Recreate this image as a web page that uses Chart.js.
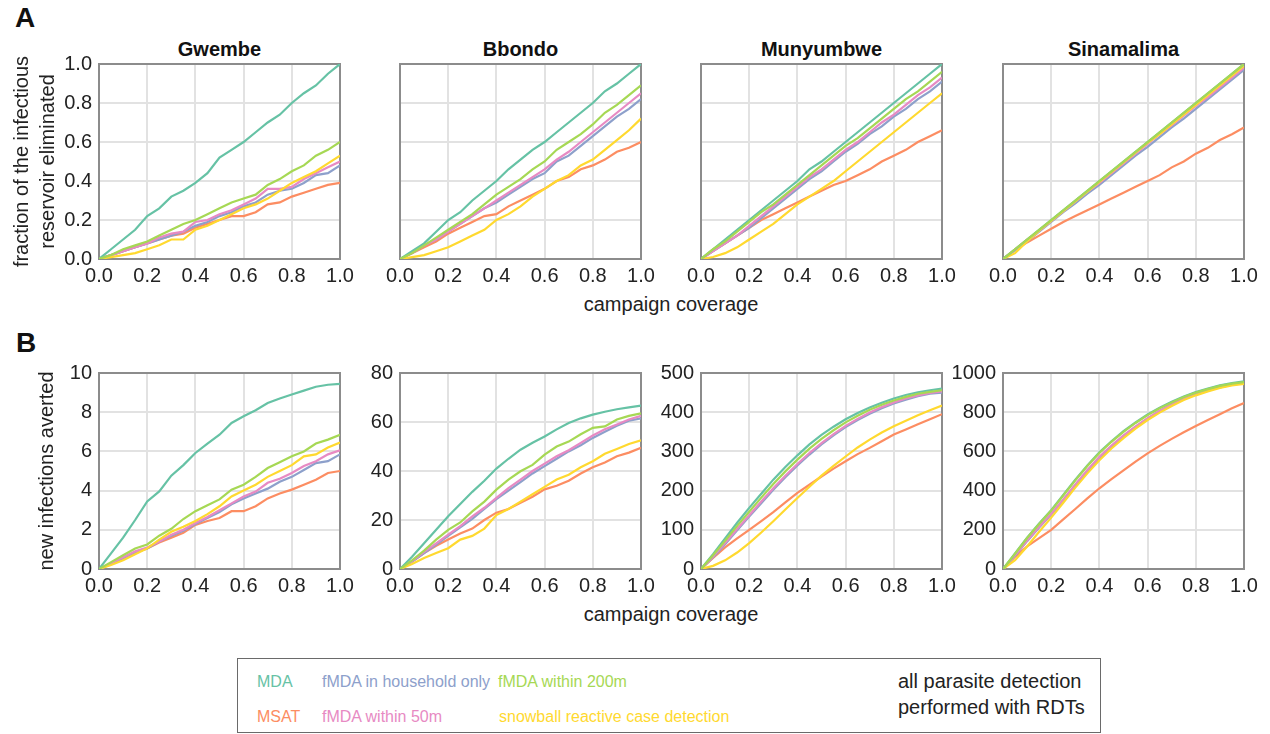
<!DOCTYPE html>
<html>
<head>
<meta charset="utf-8">
<title>Reservoir elimination and infections averted</title>
<script src="https://cdn.jsdelivr.net/npm/chart.js@4.4.0/dist/chart.umd.min.js"></script>
<style>
  body {
    margin: 0;
    width: 1270px;
    height: 734px;
    position: relative;
    overflow: hidden;
    background: #fff;
    color: #222;
    font-family: "Liberation Sans", Arial, sans-serif;
  }
  canvas { position: absolute; }
  .txt { position: absolute; line-height: 1; white-space: nowrap; }
  .letter { font-size: 28px; font-weight: bold; color: #111; }
  .title { font-size: 20px; font-weight: bold; text-align: center; width: 241px; color: #111; }
  .xtitle { font-size: 20px; text-align: center; width: 542px; left: 400px; }
  .key { font-size: 16px; }
  #legend {
    position: absolute;
    left: 237px; top: 658px;
    width: 864px; height: 75px;
    box-sizing: border-box;
    border: 1.5px solid #6a6a6a;
  }
  #note { left: 898px; top: 668px; font-size: 20px; line-height: 26px; color: #222; }
</style>
</head>
<body>

<div class="txt letter" style="left:15px; top:4px;">A</div>
<div class="txt letter" style="left:16px; top:329px;">B</div>

<div class="txt title" style="left:99px; top:39px;">Gwembe</div>
<div class="txt title" style="left:400px; top:39px;">Bbondo</div>
<div class="txt title" style="left:701px; top:39px;">Munyumbwe</div>
<div class="txt title" style="left:1003px; top:39px;">Sinamalima</div>

<div class="txt xtitle" style="top:294px;">campaign coverage</div>
<div class="txt xtitle" style="top:604px;">campaign coverage</div>

<div id="legend"></div>
<div class="txt key" style="left:257px; top:674px; color:#66c2a5;">MDA</div>
<div class="txt key" style="left:257px; top:709px; color:#fc8d62;">MSAT</div>
<div class="txt key" style="left:322px; top:674px; color:#8da0cb;">fMDA in household only</div>
<div class="txt key" style="left:322px; top:709px; color:#e78ac3;">fMDA within 50m</div>
<div class="txt key" style="left:498px; top:674px; color:#a6d854;">fMDA within 200m</div>
<div class="txt key" style="left:499px; top:709px; color:#ffd92f;">snowball reactive case detection</div>
<div class="txt" id="note">all parasite detection<br>performed with RDTs</div>

<script>
// campaign coverage, sampled every 5%
const coverage = [0, 0.05, 0.10, 0.15, 0.20, 0.25, 0.30, 0.35, 0.40, 0.45, 0.50,
                  0.55, 0.60, 0.65, 0.70, 0.75, 0.80, 0.85, 0.90, 0.95, 1.00];

// series order used by every panel below
const seriesLabels = ["MDA", "MSAT", "fMDA in household only", "fMDA within 50m",
                      "fMDA within 200m", "snowball reactive case detection"];
const seriesColors = ["#66c2a5", "#fc8d62", "#8da0cb", "#e78ac3", "#a6d854", "#ffd92f"];
// which series gets painted last (on top) first
const drawOrder = [4, 0, 5, 3, 2, 1];

const coverageTicks = [0, 0.2, 0.4, 0.6, 0.8, 1.0];
const fractionTicks = [0, 0.2, 0.4, 0.6, 0.8, 1.0];
const avertedTicksGwembe = [0, 2, 4, 6, 8, 10];
const avertedTicksBbondo = [0, 20, 40, 60, 80];
const avertedTicksMunyumbwe = [0, 100, 200, 300, 400, 500];
const avertedTicksSinamalima = [0, 200, 400, 600, 800, 1000];

// fraction of the infectious reservoir eliminated
const fracGwembe = [
  [0, 0.05, 0.10, 0.15, 0.22, 0.26, 0.32, 0.35, 0.39, 0.44, 0.52, 0.56, 0.60, 0.65, 0.70, 0.74, 0.80, 0.85, 0.89, 0.95, 1.00],
  [0, 0.02, 0.04, 0.06, 0.08, 0.10, 0.12, 0.13, 0.16, 0.18, 0.20, 0.22, 0.22, 0.24, 0.28, 0.29, 0.32, 0.34, 0.36, 0.38, 0.39],
  [0, 0.02, 0.04, 0.06, 0.08, 0.10, 0.12, 0.14, 0.17, 0.19, 0.22, 0.24, 0.27, 0.29, 0.33, 0.35, 0.36, 0.39, 0.43, 0.44, 0.48],
  [0, 0.02, 0.04, 0.06, 0.08, 0.11, 0.13, 0.14, 0.19, 0.20, 0.23, 0.25, 0.28, 0.31, 0.36, 0.36, 0.37, 0.41, 0.44, 0.47, 0.50],
  [0, 0.02, 0.05, 0.07, 0.09, 0.12, 0.15, 0.18, 0.20, 0.23, 0.26, 0.29, 0.31, 0.33, 0.38, 0.41, 0.45, 0.48, 0.53, 0.56, 0.60],
  [0, 0.01, 0.02, 0.03, 0.05, 0.07, 0.10, 0.10, 0.15, 0.17, 0.20, 0.23, 0.26, 0.28, 0.31, 0.35, 0.39, 0.42, 0.45, 0.49, 0.53]
];
const fracBbondo = [
  [0, 0.04, 0.08, 0.14, 0.20, 0.24, 0.30, 0.35, 0.40, 0.46, 0.51, 0.56, 0.60, 0.65, 0.70, 0.75, 0.80, 0.86, 0.90, 0.95, 1.00],
  [0, 0.03, 0.06, 0.09, 0.13, 0.16, 0.19, 0.22, 0.23, 0.27, 0.30, 0.33, 0.36, 0.40, 0.42, 0.46, 0.48, 0.51, 0.55, 0.57, 0.60],
  [0, 0.03, 0.07, 0.10, 0.14, 0.18, 0.22, 0.26, 0.29, 0.33, 0.37, 0.41, 0.44, 0.50, 0.53, 0.58, 0.63, 0.68, 0.73, 0.77, 0.82],
  [0, 0.03, 0.07, 0.10, 0.14, 0.18, 0.22, 0.26, 0.30, 0.34, 0.38, 0.42, 0.46, 0.51, 0.55, 0.60, 0.65, 0.70, 0.75, 0.80, 0.85],
  [0, 0.03, 0.07, 0.11, 0.15, 0.19, 0.23, 0.28, 0.33, 0.37, 0.41, 0.46, 0.50, 0.56, 0.60, 0.64, 0.69, 0.75, 0.79, 0.84, 0.89],
  [0, 0.01, 0.02, 0.04, 0.06, 0.09, 0.12, 0.15, 0.20, 0.23, 0.27, 0.32, 0.36, 0.40, 0.43, 0.48, 0.51, 0.56, 0.61, 0.66, 0.72]
];
const fracMunyumbwe = [
  [0, 0.05, 0.10, 0.15, 0.20, 0.25, 0.30, 0.35, 0.40, 0.46, 0.50, 0.55, 0.60, 0.65, 0.70, 0.75, 0.80, 0.85, 0.90, 0.95, 1.00],
  [0, 0.04, 0.08, 0.12, 0.16, 0.20, 0.23, 0.26, 0.29, 0.32, 0.35, 0.38, 0.40, 0.43, 0.46, 0.50, 0.53, 0.56, 0.60, 0.63, 0.66],
  [0, 0.04, 0.08, 0.12, 0.16, 0.21, 0.26, 0.31, 0.36, 0.41, 0.45, 0.50, 0.55, 0.59, 0.64, 0.68, 0.73, 0.77, 0.82, 0.86, 0.91],
  [0, 0.04, 0.08, 0.12, 0.17, 0.22, 0.27, 0.32, 0.37, 0.42, 0.46, 0.51, 0.56, 0.60, 0.65, 0.70, 0.74, 0.79, 0.84, 0.88, 0.93],
  [0, 0.05, 0.09, 0.14, 0.19, 0.24, 0.28, 0.33, 0.38, 0.43, 0.48, 0.53, 0.58, 0.62, 0.67, 0.72, 0.77, 0.82, 0.86, 0.91, 0.96],
  [0, 0.01, 0.03, 0.06, 0.10, 0.14, 0.18, 0.23, 0.28, 0.32, 0.36, 0.40, 0.45, 0.50, 0.55, 0.60, 0.65, 0.70, 0.75, 0.80, 0.85]
];
const fracSinamalima = [
  [0, 0.05, 0.10, 0.15, 0.20, 0.25, 0.30, 0.35, 0.40, 0.45, 0.50, 0.55, 0.60, 0.65, 0.70, 0.75, 0.80, 0.85, 0.90, 0.95, 1.00],
  [0, 0.045, 0.085, 0.12, 0.155, 0.19, 0.22, 0.25, 0.28, 0.31, 0.34, 0.37, 0.40, 0.43, 0.47, 0.50, 0.54, 0.57, 0.61, 0.64, 0.675],
  [0, 0.045, 0.09, 0.14, 0.19, 0.24, 0.285, 0.335, 0.38, 0.43, 0.48, 0.53, 0.575, 0.625, 0.675, 0.72, 0.77, 0.82, 0.87, 0.92, 0.97],
  [0, 0.05, 0.10, 0.145, 0.195, 0.245, 0.295, 0.345, 0.39, 0.44, 0.49, 0.54, 0.59, 0.64, 0.685, 0.735, 0.785, 0.83, 0.88, 0.93, 0.98],
  [0, 0.05, 0.10, 0.15, 0.20, 0.25, 0.30, 0.35, 0.40, 0.45, 0.50, 0.55, 0.60, 0.65, 0.70, 0.75, 0.80, 0.85, 0.90, 0.95, 1.00],
  [0, 0.03, 0.09, 0.145, 0.195, 0.245, 0.295, 0.345, 0.395, 0.445, 0.495, 0.545, 0.595, 0.64, 0.69, 0.74, 0.79, 0.84, 0.89, 0.94, 0.99]
];

// new infections averted
const avertGwembe = [
  [0, 0.8, 1.6, 2.5, 3.45, 3.96, 4.76, 5.3, 5.92, 6.4, 6.85, 7.45, 7.79, 8.1, 8.47, 8.7, 8.9, 9.1, 9.3, 9.4, 9.45],
  [0, 0.25, 0.55, 0.85, 1.05, 1.35, 1.6, 1.85, 2.25, 2.45, 2.6, 2.95, 2.95, 3.2, 3.6, 3.85, 4.05, 4.3, 4.55, 4.9, 5.0],
  [0, 0.25, 0.55, 0.85, 1.05, 1.4, 1.7, 1.95, 2.3, 2.6, 2.9, 3.3, 3.6, 3.85, 4.1, 4.45, 4.7, 5.05, 5.4, 5.5, 5.85],
  [0, 0.3, 0.6, 0.9, 1.1, 1.4, 1.75, 2.0, 2.35, 2.65, 3.0, 3.35, 3.7, 3.95, 4.4, 4.6, 4.9, 5.25, 5.5, 5.85, 6.05],
  [0, 0.35, 0.7, 1.05, 1.25, 1.7, 2.05, 2.55, 2.95, 3.25, 3.55, 4.05, 4.3, 4.7, 5.15, 5.45, 5.75, 6.0, 6.4, 6.6, 6.85],
  [0, 0.2, 0.45, 0.75, 1.05, 1.5, 1.9, 2.15, 2.45, 2.8, 3.2, 3.7, 4.0, 4.3, 4.7, 5.0, 5.3, 5.75, 5.85, 6.2, 6.45]
];
const avertBbondo = [
  [0, 5, 10.5, 16, 21.5, 26.5, 31.5, 36, 41, 45, 48.7, 51.5, 54.1, 57, 59.6, 61.5, 63, 64.2, 65.2, 66, 66.7],
  [0, 3, 6.5, 9.5, 12, 14.5, 16.5, 20, 23, 24.5, 27, 29.5, 32.5, 34, 36, 39, 41.5, 43.5, 46, 47.5, 49.5],
  [0, 3, 6.5, 10, 13.5, 17, 20.5, 24.5, 28.5, 32, 35.5, 39, 42, 45, 48, 50.5, 53.5, 56, 58.5, 60.5, 61.5],
  [0, 3.2, 7, 10.5, 14, 17.5, 21.5, 25, 29, 33, 36.5, 40, 43, 46, 48.5, 51.5, 54.5, 57, 59, 61, 62.5],
  [0, 3.5, 7.5, 12, 16, 19, 23.5, 27.5, 32.4, 36.5, 39.9, 42.5, 46.7, 50, 52, 55, 57.6, 58.2, 61, 62.5, 63.5],
  [0, 2, 4.5, 6.5, 8.5, 12, 13.5, 16.5, 22, 24.5, 27.5, 30.5, 33.5, 36.5, 38.5, 41.5, 44, 47, 49, 51, 52.5]
];
const avertMunyumbwe = [
  [0, 38, 78, 118, 156, 192, 228, 260, 290, 318, 342, 363, 382, 398, 412, 424, 435, 444, 451, 456, 460],
  [0, 28, 55, 78, 100, 122, 145, 170, 194, 215, 236, 256, 275, 293, 309, 326, 343, 356, 369, 382, 395],
  [0, 30, 63, 99, 134, 168, 202, 234, 264, 292, 318, 341, 362, 380, 396, 410, 422, 432, 441, 447, 450],
  [0, 32, 66, 102, 137, 172, 206, 238, 268, 296, 321, 344, 365, 383, 399, 413, 425, 435, 443, 449, 453],
  [0, 35, 72, 110, 146, 182, 217, 249, 279, 307, 332, 354, 374, 391, 406, 419, 430, 439, 447, 452, 456],
  [0, 8, 22, 42, 66, 93, 122, 152, 181, 210, 238, 263, 287, 310, 330, 348, 364, 378, 392, 405, 417]
];
const avertSinamalima = [
  [0, 80, 160, 232, 300, 378, 455, 528, 595, 652, 703, 748, 788, 823, 853, 880, 903, 921, 937, 949, 957],
  [0, 62, 115, 158, 200, 253, 306, 360, 412, 458, 503, 548, 590, 628, 664, 698, 730, 760, 790, 820, 847],
  [0, 68, 142, 212, 278, 350, 426, 498, 565, 624, 677, 724, 767, 805, 838, 866, 890, 910, 927, 940, 948],
  [0, 70, 145, 215, 282, 355, 432, 505, 572, 630, 682, 728, 770, 808, 840, 868, 892, 912, 928, 941, 950],
  [0, 78, 158, 230, 298, 375, 452, 525, 592, 649, 700, 745, 785, 820, 850, 878, 900, 918, 934, 946, 953],
  [0, 45, 115, 190, 262, 338, 415, 488, 555, 615, 668, 716, 760, 798, 832, 862, 886, 906, 924, 937, 945]
];

const FONT = '"Liberation Sans", Arial, sans-serif';
const colLeft = [99, 400, 701, 1003];
const rowTop = [64, 373];
const plotW = 241;
const plotH = [195, 196];

// grey box round each plot area
const framePlugin = {
  id: "frame",
  beforeDatasetsDraw(chart) {
    const { ctx, chartArea: a } = chart;
    ctx.save();
    ctx.strokeStyle = "#8c8c8c";
    ctx.lineWidth = 2;
    ctx.strokeRect(a.left, a.top, a.right - a.left, a.bottom - a.top);
    ctx.restore();
  }
};

function makePanel(col, row, rows, yTicks, yMax, showY, yTitle, titlePad, decimals) {
  const yW = col === 0 ? 99 : 60;
  const padTop = 12, padRight = 24, xH = 34;

  const canvas = document.createElement("canvas");
  canvas.width = yW + plotW + padRight;
  canvas.height = padTop + plotH[row] + xH;
  canvas.style.left = (colLeft[col] - yW) + "px";
  canvas.style.top = (rowTop[row] - padTop) + "px";
  document.body.appendChild(canvas);

  const datasets = drawOrder.map(i => ({
    label: seriesLabels[i],
    data: coverage.map((x, k) => ({ x: x, y: rows[i][k] })),
    borderColor: seriesColors[i],
    backgroundColor: seriesColors[i],
    borderWidth: 2.2,
    pointRadius: 0,
    tension: 0,
    fill: false
  }));

  new Chart(canvas, {
    type: "line",
    data: { datasets: datasets },
    plugins: [framePlugin],
    options: {
      responsive: false,
      animation: false,
      events: [],
      layout: { padding: { left: 0, top: padTop, right: padRight, bottom: 0 } },
      plugins: { legend: { display: false }, tooltip: { enabled: false } },
      scales: {
        x: {
          type: "linear",
          min: 0,
          max: 1,
          afterBuildTicks: s => { s.ticks = coverageTicks.map(v => ({ value: v })); },
          afterFit: s => { s.height = xH; s.paddingLeft = 0; s.paddingRight = 0; },
          border: { display: false },
          grid: { color: "#e2e2e2", lineWidth: 2, drawTicks: false },
          ticks: {
            color: "#222",
            padding: 5,
            maxRotation: 0,
            autoSkip: false,
            font: { family: FONT, size: 20 },
            callback: v => v.toFixed(1)
          }
        },
        y: {
          type: "linear",
          min: 0,
          max: yMax,
          afterBuildTicks: s => { s.ticks = yTicks.map(v => ({ value: v })); },
          afterFit: s => { s.width = yW; s.paddingTop = 0; s.paddingBottom = 0; },
          border: { display: false },
          grid: { color: "#e2e2e2", lineWidth: 2, drawTicks: false },
          ticks: {
            display: showY,
            color: "#222",
            padding: 7,
            autoSkip: false,
            font: { family: FONT, size: 20 },
            callback: v => v.toFixed(decimals)
          },
          title: {
            display: !!yTitle,
            text: yTitle || "",
            color: "#222",
            padding: { top: titlePad, bottom: 0 },
            font: { family: FONT, size: 20, lineHeight: 1.3 }
          }
        }
      }
    }
  });
}

// row A: fraction of the infectious reservoir eliminated
makePanel(0, 0, fracGwembe, fractionTicks, 1, true,
  ["fraction of the infectious", "reservoir eliminated"], 9, 1);
makePanel(1, 0, fracBbondo, fractionTicks, 1, false, null, 0, 1);
makePanel(2, 0, fracMunyumbwe, fractionTicks, 1, false, null, 0, 1);
makePanel(3, 0, fracSinamalima, fractionTicks, 1, false, null, 0, 1);

// row B: new infections averted
makePanel(0, 1, avertGwembe, avertedTicksGwembe, 10, true, "new infections averted", 34, 0);
makePanel(1, 1, avertBbondo, avertedTicksBbondo, 80, true, null, 0, 0);
makePanel(2, 1, avertMunyumbwe, avertedTicksMunyumbwe, 500, true, null, 0, 0);
makePanel(3, 1, avertSinamalima, avertedTicksSinamalima, 1000, true, null, 0, 0);
</script>
</body>
</html>
